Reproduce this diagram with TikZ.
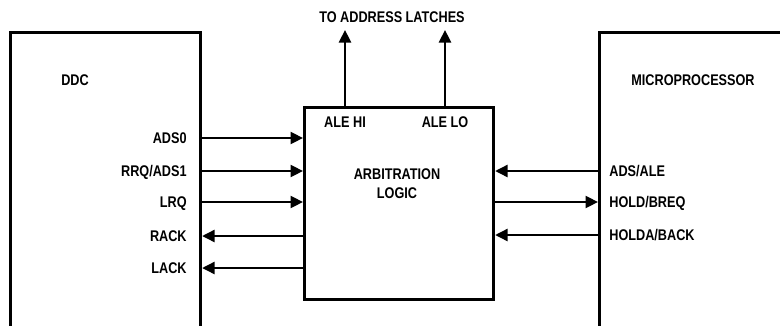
\documentclass[tikz,border=0pt]{standalone}
\usepackage{fontspec}
\setmainfont{Liberation Sans}[FakeStretch=0.82]
\usetikzlibrary{positioning}
\usetikzlibrary{arrows.meta}

\tikzset{
  blockbox/.style={draw, line width=1.8pt, rectangle, inner sep=0pt},
  pinlabel/.style={font=\fontsize{8.8}{10.8}\selectfont\bfseries, inner sep=0pt,
                   text height=6.3pt, text depth=0pt},
  sig/.style={line width=1.4pt, -{Triangle[length=0.25cm,width=0.24cm]}},
}

\begin{document}
\begin{tikzpicture}[x=0.02cm,y=-0.02cm]

\useasboundingbox (0,0) rectangle (780,325);
\clip (0,0) rectangle (780,325);

%---------------------------------------
% Blocks
%---------------------------------------
\node[blockbox, anchor=north west, minimum width=3.8cm, minimum height=6.4cm]
  (ddc) at (9,31) {};
\node[blockbox, anchor=north west, minimum width=3.78cm, minimum height=3.84cm]
  (arb) at (303,106) {};
\node[blockbox, anchor=north west, minimum width=4.2cm, minimum height=6.4cm]
  (mp) at (598,31) {};

\node[pinlabel] (ddcname) at (75,80) {DDC};
\node[pinlabel] (mpname) at (693,80) {MICROPROCESSOR};
\node[pinlabel, align=center, text height=, text depth=]
  (arbname) at (397,184) {ARBITRATION\\LOGIC};

%---------------------------------------
% DDC side
%---------------------------------------
\node[pinlabel, anchor=east] (ads0) at (187,138) {ADS0};
\node[pinlabel, anchor=east] (rrq)  at (187,171) {RRQ/ADS1};
\node[pinlabel, anchor=east] (lrq)  at (187,202) {LRQ};
\node[pinlabel, anchor=east] (rack) at (187,236) {RACK};
\node[pinlabel, anchor=east] (lack) at (187,268) {LACK};

\draw[sig] (ddc.east |- ads0) -- (arb.west |- ads0);
\draw[sig] (ddc.east |- rrq)  -- (arb.west |- rrq);
\draw[sig] (ddc.east |- lrq)  -- (arb.west |- lrq);
\draw[sig] (arb.west |- rack) -- (ddc.east |- rack);
\draw[sig] (arb.west |- lack) -- (ddc.east |- lack);

%---------------------------------------
% Microprocessor side
%---------------------------------------
\node[pinlabel, anchor=west] (adsale) at (609,171) {ADS/ALE};
\node[pinlabel, anchor=west] (hold)   at (609,202) {HOLD/BREQ};
\node[pinlabel, anchor=west] (holda)  at (609,235) {HOLDA/BACK};

\draw[sig] (mp.west |- adsale) -- (arb.east |- adsale);
\draw[sig] (arb.east |- hold)   -- (mp.west |- hold);
\draw[sig] (mp.west |- holda)  -- (arb.east |- holda);

%---------------------------------------
% Address latch enables
%---------------------------------------
\node[pinlabel] (alehi) at (345,122) {ALE HI};
\node[pinlabel] (alelo) at (445,122) {ALE LO};
\node[pinlabel] (latches) at (392,17) {TO ADDRESS LATCHES};
\coordinate (tiptop) at (392,30);

\draw[sig] (arb.north -| alehi) -- (alehi |- tiptop);
\draw[sig] (arb.north -| alelo) -- (alelo |- tiptop);

\end{tikzpicture}
\end{document}
